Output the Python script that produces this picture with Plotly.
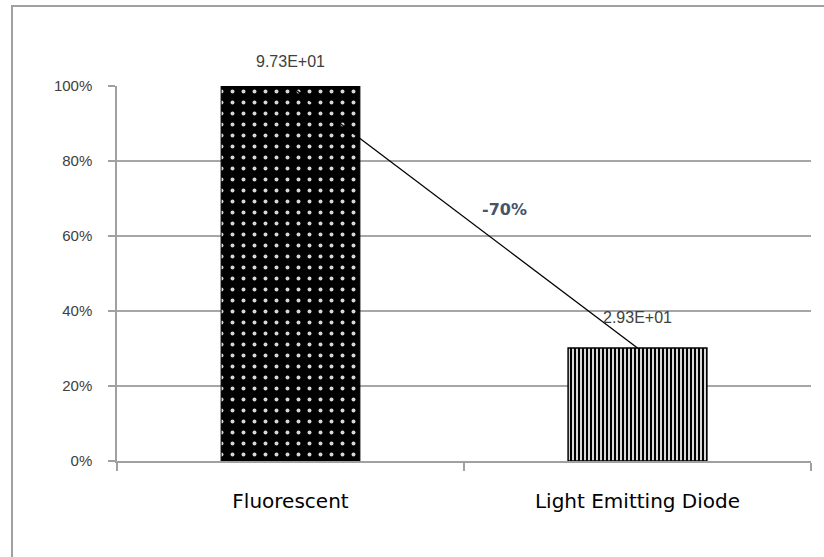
import plotly.graph_objects as go

# Lamp types and their measured values
categories = ["Fluorescent", "Light Emitting Diode"]
values = [97.3, 29.3]

# Bars are shown relative to the fluorescent reference
baseline = values[0]
shares = [v / baseline for v in values]
change = (values[1] - values[0]) / values[0]

W, H = 824, 557
L, R, T, B = 117, 13, 86, 96
pw, ph = W - L - R, H - T - B

fig = go.Figure()

fig.add_trace(go.Bar(
    x=[categories[0]], y=[shares[0]], width=0.4,
    marker=dict(color="black", line=dict(color="black", width=1),
                pattern=dict(shape=".", fgcolor="#d8d8d8", bgcolor="black",
                             size=11, solidity=0.1, fillmode="replace")),
    showlegend=False, hoverinfo="skip",
))
fig.add_trace(go.Bar(
    x=[categories[1]], y=[shares[1]], width=0.4,
    marker=dict(color="white", line=dict(color="black", width=1.5),
                pattern=dict(shape="|", fgcolor="black", bgcolor="#d9d9d9",
                             size=4, solidity=0.5, fillmode="replace")),
    showlegend=False, hoverinfo="skip",
))

# Connector between the two bar tops
fig.add_trace(go.Scatter(
    x=categories, y=shares, mode="lines",
    line=dict(color="black", width=1.3),
    showlegend=False, hoverinfo="skip",
))

# Value labels above each bar
label_shift = [25, 31]
for cat, share, val, dy in zip(categories, shares, values, label_shift):
    fig.add_annotation(
        x=cat, y=share, text=f"{val:.2E}", showarrow=False,
        yanchor="middle", yshift=dy,
        font=dict(family="Liberation Sans", size=16, color="#404040"),
    )

# Percentage change next to the connector
fig.add_annotation(
    x=0.5, y=(shares[0] + shares[1]) / 2, text=f"{change:.0%}",
    showarrow=False, xshift=40, yshift=8,
    font=dict(family="DejaVu Sans", size=16, color="#44546A", weight="bold"),
)

# Outer frame
fig.add_shape(
    type="rect", xref="paper", yref="paper",
    x0=(12 - L) / pw, x1=1.5, y0=-0.5, y1=(T - 6) / ph + 1,
    line=dict(color="#a0a0a0", width=2), fillcolor="rgba(0,0,0,0)",
    layer="below",
)

fig.update_layout(
    width=W, height=H,
    margin=dict(l=L, r=R, t=T, b=B, pad=0),
    paper_bgcolor="white", plot_bgcolor="white",
    barmode="overlay",
    xaxis=dict(
        type="category", categoryorder="array", categoryarray=categories,
        range=[-0.5, 1.5], tickson="boundaries",
        showgrid=False, showline=True, linecolor="#a0a0a0", linewidth=1.5,
        ticks="outside", ticklen=8, tickcolor="#a0a0a0", tickwidth=1.5,
        tickfont=dict(family="DejaVu Sans", size=20, color="black"),
        ticklabelstandoff=21,
    ),
    yaxis=dict(
        range=[0, 1], dtick=0.2, tickformat=".0%",
        showgrid=True, gridcolor="#a6a6a6", gridwidth=1.5,
        zeroline=False, showline=True, linecolor="#a0a0a0", linewidth=1.5,
        ticks="outside", ticklen=7, tickcolor="#a0a0a0", tickwidth=1.5,
        tickfont=dict(family="Liberation Sans", size=15, color="#404040"),
        ticklabelstandoff=13,
    ),
)

fig.write_html("out.html")
